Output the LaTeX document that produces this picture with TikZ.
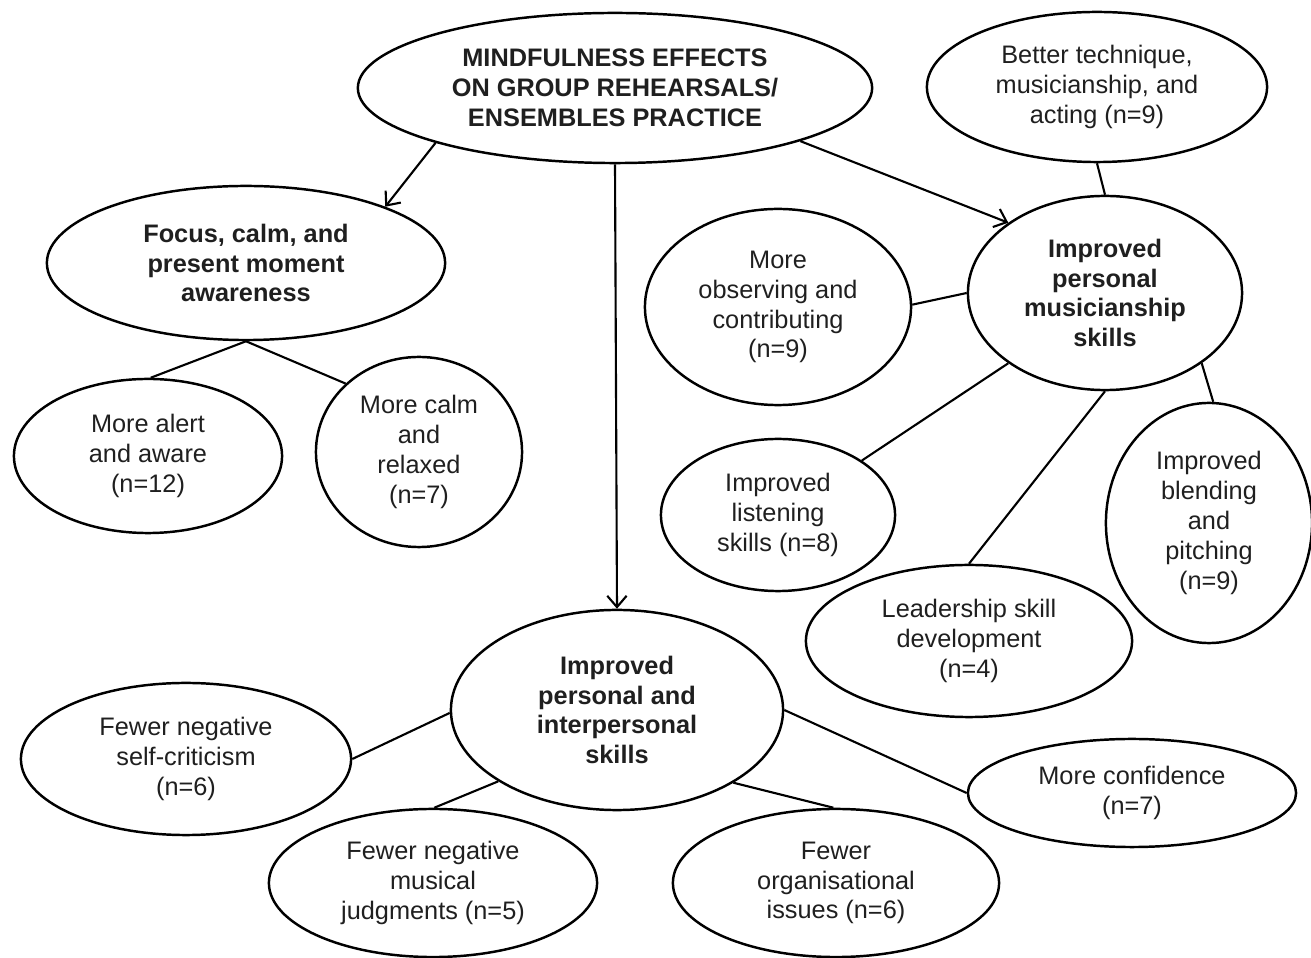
\documentclass[tikz,border=0pt]{standalone}
\usepackage{fontspec}
\setmainfont{Liberation Sans}
\usetikzlibrary{shapes.geometric,arrows.meta}

\begin{document}
\begin{tikzpicture}[x=0.01cm,y=-0.01cm,
  oval/.style={ellipse,draw=black,line width=0.7pt,inner sep=0pt,
    align=center,text=black!88,font=\fontsize{7.2}{8.5}\selectfont},
  hub/.style={oval,font=\fontsize{7.2}{8.5}\selectfont\bfseries},
  link/.style={draw=black,line width=0.6pt},
  arrow/.style={link,-{Straight Barb[length=3.2pt,width=5.5pt]}}]
\useasboundingbox (0,0) rectangle (1311,958);

% central theme
\node[hub,minimum width=5.14cm,minimum height=1.50cm] (main) at (615,88)
  {MINDFULNESS EFFECTS\\ON GROUP REHEARSALS/\\ENSEMBLES PRACTICE};

% theme 1: focus
\node[hub,minimum width=3.98cm,minimum height=1.54cm] (focus) at (246,263)
  {Focus, calm, and\\present moment\\awareness};
\node[oval,minimum width=2.68cm,minimum height=1.54cm] (alert) at (148,456)
  {More alert\\and aware\\(n=12)};
\node[oval,minimum width=2.06cm,minimum height=1.90cm] (calm) at (419,452)
  {More calm\\and\\relaxed\\(n=7)};

% theme 2: musicianship
\node[hub,minimum width=2.74cm,minimum height=1.94cm] (music) at (1105,293)
  {Improved\\personal\\musicianship\\skills};
\node[oval,minimum width=3.40cm,minimum height=1.50cm] (tech) at (1097,87)
  {Better technique,\\musicianship, and\\acting (n=9)};
\node[oval,minimum width=2.66cm,minimum height=1.96cm] (observe) at (778,307)
  {More\\observing and\\contributing\\(n=9)};
\node[oval,minimum width=2.34cm,minimum height=1.52cm] (listen) at (778,515)
  {Improved\\listening\\skills (n=8)};
\node[oval,minimum width=3.26cm,minimum height=1.52cm] (lead) at (969,641)
  {Leadership skill\\development\\(n=4)};
\node[oval,minimum width=2.06cm,minimum height=2.40cm] (blend) at (1209,523)
  {Improved\\blending\\and\\pitching\\(n=9)};

% theme 3: personal and interpersonal skills
\node[hub,minimum width=3.32cm,minimum height=2.00cm] (inter) at (617,710)
  {Improved\\personal and\\interpersonal\\skills};
\node[oval,minimum width=3.30cm,minimum height=1.52cm] (selfcrit) at (186,759)
  {Fewer negative\\self-criticism\\(n=6)};
\node[oval,minimum width=3.28cm,minimum height=1.48cm] (judge) at (433,883)
  {Fewer negative\\musical\\judgments (n=5)};
\node[oval,minimum width=3.26cm,minimum height=1.48cm] (organise) at (836,883)
  {Fewer\\organisational\\issues (n=6)};
\node[oval,minimum width=3.28cm,minimum height=1.08cm] (confid) at (1132,793)
  {More confidence\\(n=7)};

% arrows from the central theme
\draw[arrow] (main.-163) -- (focus.22);
\draw[arrow] (main.-90) -- (inter.90);
\draw[arrow] (main.-16.4) -- (music.144.4);

% sub-themes
\draw[link] (focus.-90) -- (alert.88);
\draw[link] (focus.-90) -- (calm.137.6);

\draw[link] (tech.-90) -- (music.90);
\draw[link] (observe.1) -- (music.180);
\draw[link] (listen.33.9) -- (music.-144.4);
\draw[link] (lead.90) -- (music.-90);
\draw[link] (blend.88) -- (music.-36.9);

\draw[link] (selfcrit.0) -- (inter.-179.3);
\draw[link] (judge.89) -- (inter.-149);
\draw[link] (organise.92) -- (inter.-32);
\draw[link] (confid.180) -- (inter.-0.7);
\end{tikzpicture}
\end{document}
